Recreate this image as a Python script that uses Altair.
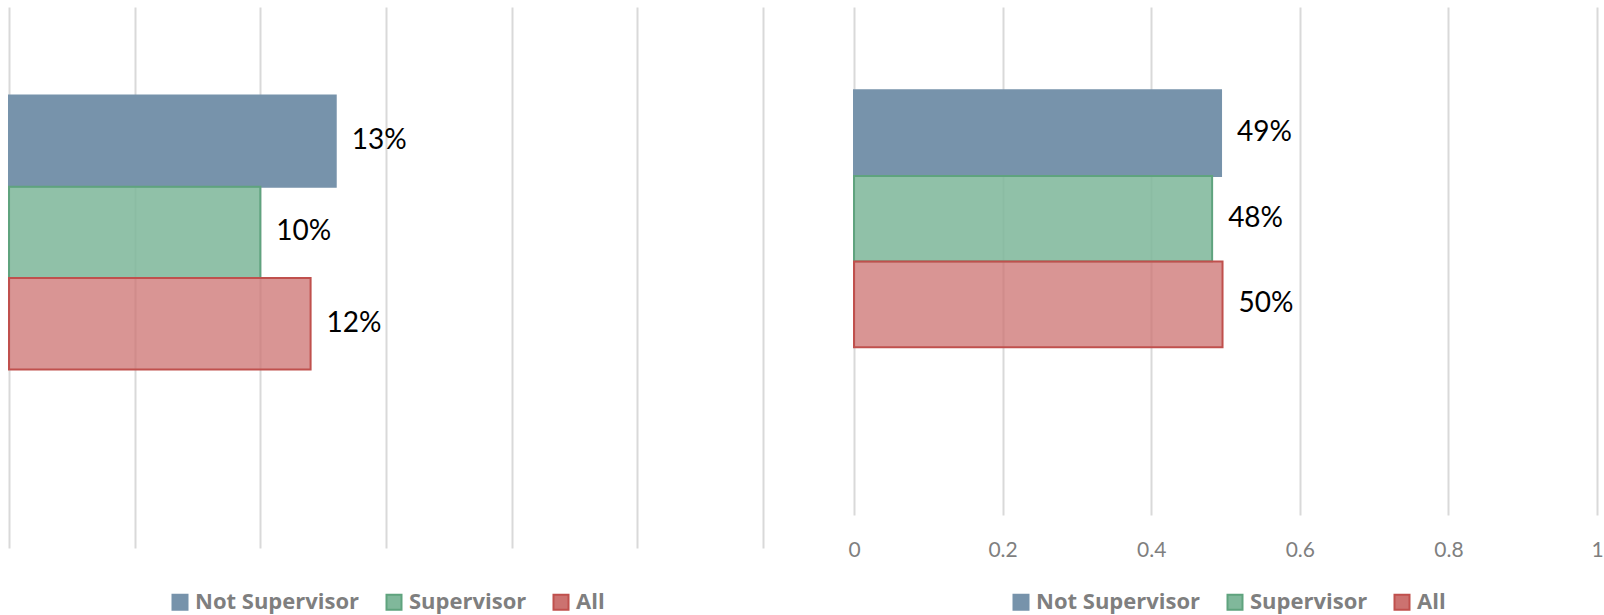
import altair as alt
import pandas as pd

# Series shown in both panels, top to bottom
series = ["Not Supervisor", "Supervisor", "All"]
left_values = [0.13, 0.10, 0.12]
right_values = [0.494, 0.482, 0.496]

# Styling per series
fill_colors = ["#7793ab", "#80b89b", "#cc7270"]
stroke_colors = ["#7793ab", "#5fa37e", "#c0504d"]
fill_opacities = [1.0, 0.75, 0.75]

left_ticks = [0, 0.05, 0.10, 0.15, 0.20, 0.25, 0.30]
right_ticks = [0, 0.2, 0.4, 0.6, 0.8, 1.0]

# vertical extent in band units: bars occupy rows 0..3, with empty room around them
ROW_DOMAIN = [-0.915, 4.902]

FONT = "Lato"
LEGEND_FONT = "Open Sans"
GRID = "#d9d9d9"
LABEL_GREY = "#7f7f7f"


def panel(values, x_domain, ticks, show_labels, width, height, legend_x):
    df = pd.DataFrame({"series": series, "value": values, "row": range(len(series))})
    legend = alt.Legend(
        title=None,
        orient="none",
        legendX=legend_x,
        legendY=584,
        direction="horizontal",
        symbolType="square",
        symbolSize=225,
        symbolStrokeWidth=2,
        labelFont=LEGEND_FONT,
        labelFontSize=22,
        labelFontWeight="bold",
        labelColor=LABEL_GREY,
        labelLimit=0,
        labelOffset=4,
        columnPadding=22,
        padding=0,
    )
    yscale = alt.Scale(domain=ROW_DOMAIN, reverse=True, nice=False, zero=False)
    xscale = alt.Scale(domain=x_domain, nice=False, zero=True)
    x = alt.X(
        "value:Q",
        scale=xscale,
        axis=alt.Axis(
            values=ticks,
            labels=show_labels,
            format="~g",
            labelFont=FONT,
            labelFontSize=21,
            labelColor=LABEL_GREY,
            labelPadding=24,
            labelFlush=False,
            ticks=False,
            domain=False,
            grid=True,
            gridColor=GRID,
            gridWidth=2,
            title=None,
        ),
    )
    base = alt.Chart(df).transform_calculate(
        start="0", row_end="datum.row + 1", row_mid="datum.row + 0.5"
    )
    bars = base.mark_bar(strokeWidth=2, orient="horizontal").encode(
        x=x,
        x2="start:Q",
        y=alt.Y("row:Q", scale=yscale, axis=None),
        y2="row_end:Q",
        fill=alt.Fill("series:N", sort=series,
                      scale=alt.Scale(domain=series, range=fill_colors), legend=legend),
        stroke=alt.Stroke("series:N", sort=series,
                          scale=alt.Scale(domain=series, range=stroke_colors), legend=legend),
        fillOpacity=alt.FillOpacity("series:N", sort=series,
                                    scale=alt.Scale(domain=series, range=fill_opacities),
                                    legend=legend),
    )
    labels = base.mark_text(
        align="left", baseline="middle", dx=16, font=FONT, fontSize=28, color="black"
    ).encode(
        x=alt.X("value:Q", scale=xscale),
        y=alt.Y("row_mid:Q", scale=yscale, axis=None),
        text=alt.Text("value:Q", format=".0%"),
    )
    return (bars + labels).properties(width=width, height=height)


left = panel(left_values, [0, 0.3], left_ticks, False, 754, 541, 160)
right = panel(right_values, [0, 1], right_ticks, True, 743, 508, 156)

chart = (
    alt.hconcat(left, right, spacing=84)
    .resolve_legend(fill="independent", stroke="independent", fillOpacity="independent")
    .properties(padding={"left": 8, "top": 7, "right": 0, "bottom": 0}, background="white")
    .configure_view(stroke=None)
)

chart.save("out.html", embed_options={"renderer": "svg", "actions": False})
